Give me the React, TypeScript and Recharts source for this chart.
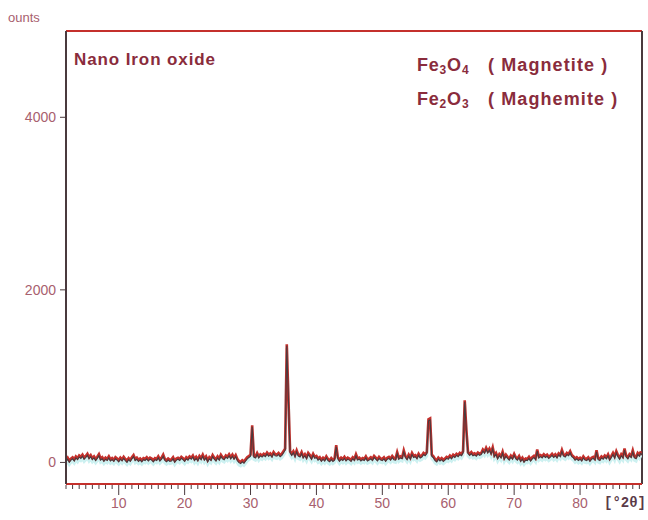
import React from 'react';
import { LineChart, Line, XAxis, YAxis, ReferenceLine } from 'recharts';

const START_ANGLE = 2;
const STEP = 0.25;
// counts, 4 readings per degree from 2.00 °2θ
const counts: number[] = [
  30, 55, 20, 45, // 2
  60, 35, 70, 50, // 3
  80, 65, 90, 55, // 4
  75, 100, 60, 85, // 5
  50, 70, 40, 65, // 6
  95, 45, 60, 30, // 7
  55, 40, 70, 35, // 8
  50, 30, 60, 45, // 9
  25, 55, 35, 65, // 10
  40, 20, 50, 30, // 11
  60, 85, 40, 55, // 12
  30, 45, 25, 50, // 13
  40, 60, 35, 55, // 14
  45, 25, 50, 40, // 15
  70, 35, 55, 90, // 16
  40, 25, 45, 30, // 17
  35, 60, 20, 45, // 18
  55, 40, 65, 50, // 19
  30, 60, 45, 70, // 20
  55, 80, 40, 65, // 21
  35, 75, 50, 90, // 22
  45, 70, 25, 60, // 23
  40, 85, 55, 35, // 24
  70, 45, 90, 60, // 25
  50, 80, 65, 95, // 26
  60, 90, 55, 85, // 27
  40, 15, 5, 25, // 28
  10, 35, 60, 75, // 29
  90, 430, 80, 70, // 30
  110, 70, 95, 80, // 31
  100, 85, 115, 90, // 32
  105, 80, 120, 95, // 33
  90, 110, 85, 100, // 34
  130, 160, 1370, 740, // 35
  130, 100, 130, 85, // 36
  140, 90, 80, 120, // 37
  70, 95, 60, 110, // 38
  85, 55, 100, 65, // 39
  75, 45, 60, 30, // 40
  55, 35, 70, 40, // 41
  25, 50, 30, 45, // 42
  200, 60, 30, 55, // 43
  40, 65, 35, 55, // 44
  45, 30, 60, 40, // 45
  95, 45, 55, 35, // 46
  50, 40, 70, 35, // 47
  45, 60, 40, 75, // 48
  55, 35, 65, 45, // 49
  40, 60, 30, 55, // 50
  65, 45, 75, 50, // 51
  45, 120, 55, 70, // 52
  60, 140, 75, 50, // 53
  90, 55, 110, 75, // 54
  85, 60, 100, 70, // 55
  80, 110, 95, 120, // 56
  500, 510, 90, 70, // 57
  40, 25, 55, 35, // 58
  50, 30, 45, 65, // 59
  55, 80, 60, 90, // 60
  75, 100, 85, 110, // 61
  95, 130, 720, 380, // 62
  120, 100, 120, 95, // 63
  105, 90, 115, 100, // 64
  110, 150, 125, 170, // 65
  130, 160, 115, 175, // 66
  85, 110, 60, 95, // 67
  70, 125, 55, 90, // 68
  65, 45, 80, 55, // 69
  100, 60, 45, 75, // 70
  30, 55, 20, 45, // 71
  40, 65, 35, 60, // 72
  75, 50, 150, 70, // 73
  85, 70, 95, 75, // 74
  90, 65, 80, 100, // 75
  75, 95, 70, 105, // 76
  85, 145, 90, 80, // 77
  110, 95, 130, 85, // 78
  70, 45, 60, 40, // 79
  55, 35, 70, 45, // 80
  40, 60, 30, 55, // 81
  65, 45, 140, 50, // 82
  40, 70, 55, 80, // 83
  60, 95, 45, 75, // 84
  110, 70, 130, 85, // 85
  55, 95, 70, 160, // 86
  80, 60, 95, 75, // 87
  140, 70, 60, 110, // 88
  90, 130, // 89
];

const xTicks: number[] = [2, 3, 4, 5, 6, 7, 8, 9, 10, 11, 12, 13, 14, 15, 16, 17, 18, 19, 20, 21, 22, 23, 24, 25, 26, 27, 28, 29, 30, 31, 32, 33, 34, 35, 36, 37, 38, 39, 40, 41, 42, 43, 44, 45, 46, 47, 48, 49, 50, 51, 52, 53, 54, 55, 56, 57, 58, 59, 60, 61, 62, 63, 64, 65, 66, 67, 68, 69, 70, 71, 72, 73, 74, 75, 76, 77, 78, 79, 80, 81, 82, 83, 84, 85, 86, 87, 88, 89];
const xLabels: number[] = [10, 20, 30, 40, 50, 60, 70, 80];
const yTicks: number[] = [0, 2000, 4000];

const X_MIN = 2;
const X_MAX = 89.4;
const Y_MIN = -250;
const Y_MAX = 5000;

const data = counts.map((c, i) => ({ angle: START_ANGLE + i * STEP, counts: c }));

const RED = '#c4302c';
const DARK = '#4a3a3e';
const LABEL = '#a8606e';
const TITLE = '#8a2c3c';
const FONT = 'Liberation Sans, Arial, sans-serif';

const XTick = (props: any) => {
  const { x, y, payload } = props;
  const v = payload.value;
  const major = xLabels.includes(v);
  return (
    <g>
      <line x1={x} x2={x} y1={y + 1} y2={y + (major ? 11 : 5)} stroke={DARK} strokeWidth={1} />
      {major && (
        <text x={x} y={y + 24} textAnchor="middle" fill={LABEL} fontSize={14} fontFamily={FONT}>
          {v}
        </text>
      )}
    </g>
  );
};

export default function App() {
  return (
    <div style={{ position: 'absolute', left: 0, top: 0, width: 648, height: 520, background: '#ffffff' }}>
      <LineChart width={648} height={520} data={data} margin={{ top: 31, right: 6, bottom: 0, left: 0 }}>
        <XAxis
          dataKey="angle"
          type="number"
          domain={[X_MIN, X_MAX]}
          ticks={xTicks}
          interval={0}
          tick={<XTick />}
          tickLine={false}
          tickSize={0}
          tickMargin={0}
          height={36}
          axisLine={{ stroke: RED, strokeWidth: 2 }}
          allowDataOverflow
        />
        <YAxis
          yAxisId="main"
          type="number"
          domain={[Y_MIN, Y_MAX]}
          ticks={yTicks}
          width={66}
          tickSize={6}
          tickMargin={4}
          tickLine={{ stroke: DARK }}
          axisLine={{ stroke: DARK, strokeWidth: 2 }}
          tick={{ fill: LABEL, fontSize: 14, fontFamily: FONT }}
          allowDataOverflow
        />
        <YAxis yAxisId="shadow" orientation="right" width={0} hide type="number" domain={[Y_MIN + 45, Y_MAX + 45]} allowDataOverflow />
        <YAxis yAxisId="dark" orientation="right" width={0} hide type="number" domain={[Y_MIN + 18, Y_MAX + 18]} allowDataOverflow />
        <ReferenceLine yAxisId="main" y={Y_MAX} stroke={RED} strokeWidth={2} />
        <ReferenceLine yAxisId="main" x={X_MAX} stroke={DARK} strokeWidth={2} />
        <Line yAxisId="shadow" dataKey="counts" type="linear" stroke="#cdf1f1" strokeWidth={3} dot={false} isAnimationActive={false} />
        <Line yAxisId="main" dataKey="counts" type="linear" stroke={RED} strokeWidth={2.6} dot={false} isAnimationActive={false} />
        <Line yAxisId="dark" dataKey="counts" type="linear" stroke={DARK} strokeWidth={1.1} dot={false} isAnimationActive={false} />
        <text x={8} y={22} fill={LABEL} fontSize={13} fontFamily={FONT}>ounts</text>
        <text x={74} y={65} fill={TITLE} fontSize={17} fontWeight="bold" letterSpacing={0.9} fontFamily={FONT}>Nano Iron oxide</text>
        <text x={417} y={71} fill={TITLE} fontSize={18} fontWeight="bold" letterSpacing={0.8} fontFamily={FONT}>
          Fe<tspan fontSize={12} dy={3}>3</tspan><tspan dy={-3}>O</tspan><tspan fontSize={12} dy={3}>4</tspan>
        </text>
        <text x={488} y={71} fill={TITLE} fontSize={18} fontWeight="bold" letterSpacing={1.1} fontFamily={FONT}>( Magnetite )</text>
        <text x={417} y={105} fill={TITLE} fontSize={18} fontWeight="bold" letterSpacing={0.8} fontFamily={FONT}>
          Fe<tspan fontSize={12} dy={3}>2</tspan><tspan dy={-3}>O</tspan><tspan fontSize={12} dy={3}>3</tspan>
        </text>
        <text x={488} y={105} fill={TITLE} fontSize={18} fontWeight="bold" letterSpacing={1.1} fontFamily={FONT}>( Maghemite )</text>
        <text x={646} y={507} textAnchor="end" fill="#5a3a48" fontSize={14} fontWeight="bold" fontFamily="Liberation Mono, DejaVu Sans Mono, monospace">[°2θ]</text>
      </LineChart>
    </div>
  );
}
